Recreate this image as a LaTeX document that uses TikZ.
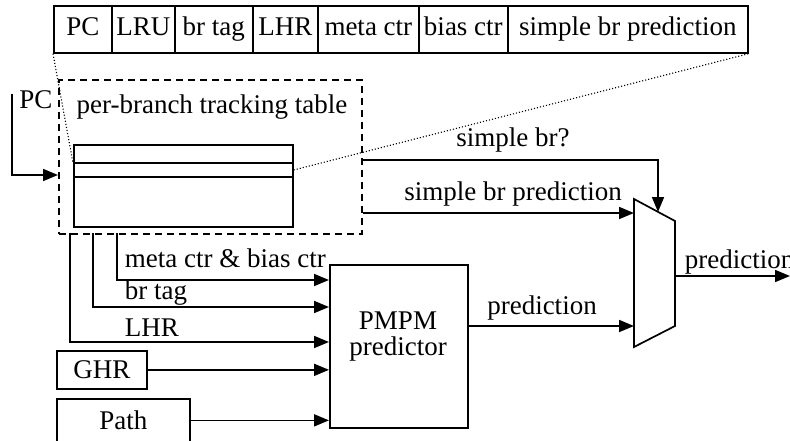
\documentclass[tikz,border=0pt]{standalone}
\usepackage{fontspec}
\setmainfont{Liberation Serif}
\usetikzlibrary{arrows.meta,positioning}
\tikzset{
  sig/.style={-{Triangle[length=15pt,width=12pt]}},
  blk/.style={draw, inner sep=2pt},
  cell/.style={blk, minimum height=47, anchor=north west, text height=19pt, text depth=6pt},
}
\begin{document}
\begin{tikzpicture}[x=1pt, y=-1pt, line width=1.7pt, font=\fontsize{27}{30}\selectfont]
    \useasboundingbox (0,0) rectangle (790,441);
    % fields of one table entry
    \foreach \l/\r/\t [count=\i] in {53/111/PC, 111/174/LRU, 174/252/br tag, 252/317/LHR,
        317/418/meta ctr, 418/507/bias ctr, 507/747/simple br prediction}
        \node[cell, minimum width=\r-\l] (f\i) at (\l,5) {\t};
    % tracking table
    \node[blk, dash pattern=on 7pt off 5pt, minimum width=303, minimum height=154, anchor=north west] (ptt) at (58,79) {};
    \node (ptttitle) at (212,107) {per-branch tracking table};
    \node[blk, minimum width=219, minimum height=82, anchor=north west] (tbl) at (73,144) {};
    \draw (tbl.west |- 0,163) -- (tbl.east |- 0,163);
    \draw (tbl.west |- 0,177) -- (tbl.east |- 0,177);
    \draw[line width=1.1pt, dash pattern=on 1.1pt off 2pt] (f1.south west) -- (tbl.west |- 0,163);
    \draw[line width=1.1pt, dash pattern=on 1.1pt off 2pt] (tbl.east |- 0,170) -- (f7.south east);
    % PC in
    \node (pc) at (36,100) {PC};
    \coordinate (pcin) at (12,94);
    \draw[sig] (pcin) |- (ptt.west |- 0,175);
    % mux
    \coordinate (mtl) at (634,199);
    \coordinate (mtr) at (675,221);
    \coordinate (mbr) at (675,326);
    \coordinate (mbl) at (634,347);
    \draw (mtl) -- (mtr) -- (mbr) -- (mbl) -- cycle;
    \draw[sig] (ptt.east |- 0,160) -| (658,212);
    \node (selLbl) at (513,140) {simple br?};
    \draw[sig] (ptt.east |- 0,213) -- (mtl |- 0,213);
    \node (simpLbl) at (513,194) {simple br prediction};
    \draw[sig] (mtr |- 0,276) -- (790,276);
    \node[anchor=west, inner sep=0pt] (outLbl) at (684,262) {prediction};
    % PMPM predictor
    \node[blk, minimum width=138, minimum height=163, anchor=north west] (pmpm) at (329,264) {};
    \node[align=center] (pmpmLbl) at (398,337) {PMPM\\[-4pt]predictor};
    \draw[sig] (pmpm.east |- 0,326) -- (mbl |- 0,326);
    \node (predLbl) at (542,308) {prediction};
    % inputs
    \coordinate (ctrOut) at (117,233);
    \coordinate (tagOut) at (93,233);
    \coordinate (lhrOut) at (70,233);
    \draw[sig] (ctrOut) |- (pmpm.west |- 0,280);
    \draw[sig] (tagOut) |- (pmpm.west |- 0,307);
    \draw[sig] (lhrOut) |- (pmpm.west |- 0,342);
    \node[anchor=west, inner sep=0pt] (ctrLbl) at (124,258) {meta ctr \& bias ctr};
    \node[anchor=west, inner sep=0pt] (tagLbl) at (124,293) {br tag};
    \node[anchor=west, inner sep=0pt] (lhrLbl) at (124,328) {LHR};
    \node[blk, minimum width=90, minimum height=38, anchor=north west] (ghr) at (56,350) {GHR};
    \node[blk, minimum width=133, minimum height=43, anchor=north west] (path) at (56,398) {Path};
    \draw[sig] (ghr.east) -- (pmpm.west |- ghr.east);
    \draw[sig] (path.east) -- (pmpm.west |- path.east);
\end{tikzpicture}
\end{document}
